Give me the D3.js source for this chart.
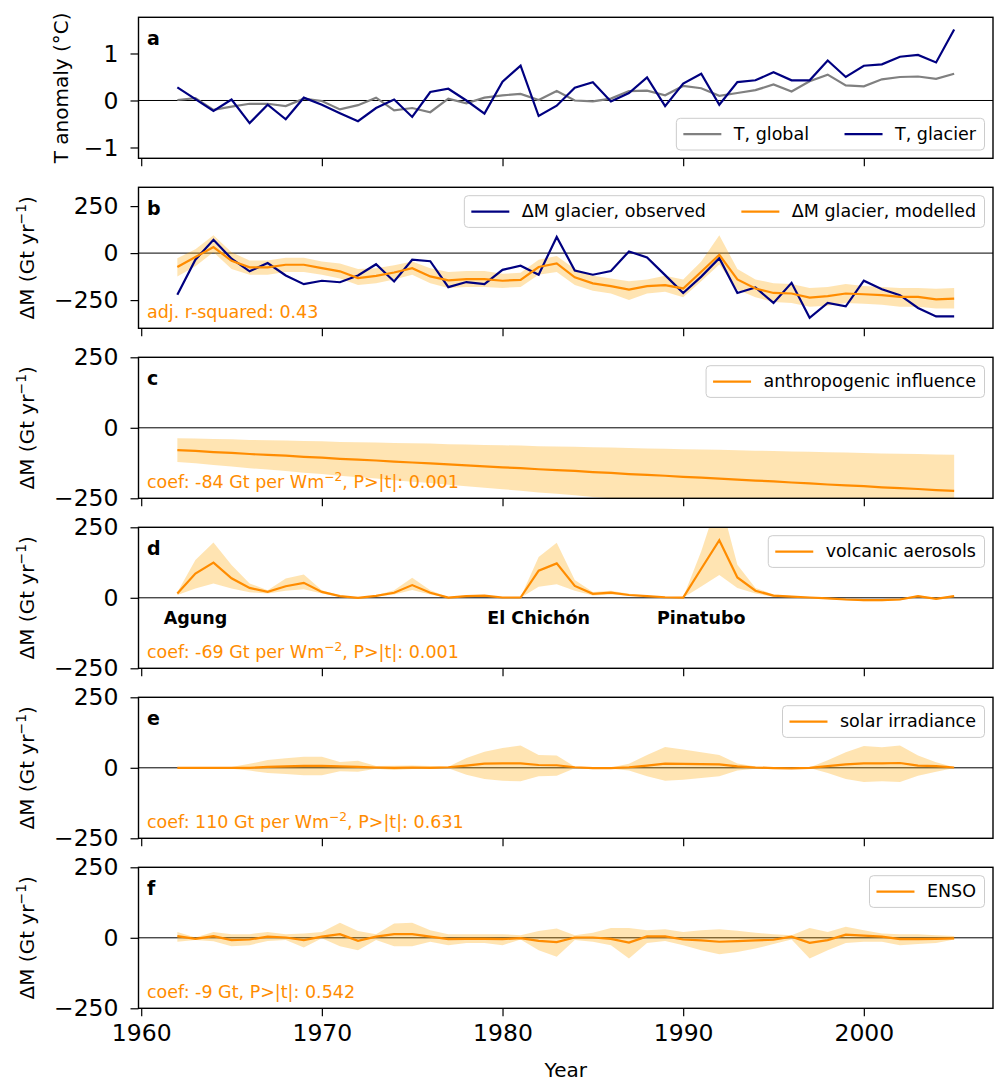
<!DOCTYPE html>
<html><head><meta charset="utf-8">
<script src="https://cdn.jsdelivr.net/npm/d3@7"></script>
<style>body{margin:0;background:#fff} svg{font-family:"DejaVu Sans",sans-serif}</style>
</head><body><svg id="c" width="995" height="1082"></svg>
<script>
// ---------------- DATA ----------------
const years = [1962,1963,1964,1965,1966,1967,1968,1969,1970,1971,1972,1973,1974,1975,1976,1977,1978,1979,1980,1981,1982,
  1983,1984,1985,1986,1987,1988,1989,1990,1991,1992,1993,1994,1995,1996,1997,1998,1999,2000,2001,2002,2003,2004,2005];

const tGlobal = [0.01,0.05,-0.20,-0.13,-0.07,-0.07,-0.12,0.04,-0.01,-0.19,-0.10,0.06,-0.21,-0.16,-0.25,0.04,-0.06,0.06,0.11,0.14,0.01,
  0.20,0.00,-0.02,0.04,0.20,0.21,0.11,0.31,0.26,0.10,0.16,0.22,0.34,0.19,0.41,0.55,0.32,0.30,0.45,0.50,0.51,0.46,0.57];
const tGlacier = [0.28,0.03,-0.22,0.02,-0.48,-0.09,-0.40,0.06,-0.09,-0.27,-0.44,-0.16,0.02,-0.35,0.18,0.25,0.00,-0.28,0.40,0.74,-0.33,
  -0.11,0.27,0.39,-0.02,0.16,0.49,-0.12,0.36,0.57,-0.09,0.39,0.43,0.60,0.43,0.43,0.85,0.50,0.74,0.77,0.93,0.97,0.81,1.51];

const dmObserved = [-222,-35,71,-30,-97,-53,-119,-165,-147,-155,-119,-59,-151,-35,-43,-181,-154,-165,-89,-67,-115,
  86,-93,-115,-95,9,-23,-117,-212,-125,-27,-212,-183,-265,-158,-344,-265,-283,-147,-192,-224,-292,-337,-337];
const dmModelled = [-74,-21,32,-41,-76,-76,-62,-62,-80,-97,-133,-121,-103,-80,-124,-145,-138,-138,-147,-142,-74,
  -55,-129,-161,-176,-194,-176,-170,-188,-99,-9,-140,-188,-212,-215,-237,-229,-215,-219,-224,-233,-233,-246,-242];
const dmModelledHigh = [-27,20,95,5,-40,-40,-25,-25,-45,-55,-85,-80,-65,-45,-80,-100,-95,-95,-110,-105,-35,
  -15,-85,-120,-135,-150,-140,-120,-140,-45,95,-85,-140,-160,-165,-185,-180,-165,-175,-180,-185,-185,-190,-185];
const dmModelledLow = [-125,-70,5,-85,-115,-115,-100,-100,-115,-135,-170,-160,-140,-115,-160,-185,-180,-180,-185,-180,-115,
  -100,-170,-200,-215,-250,-215,-205,-235,-150,-60,-195,-235,-260,-265,-285,-280,-265,-270,-275,-285,-285,-295,-295];

const anthro = [-79,-82,-86,-89,-93,-96,-99,-103,-106,-110,-113,-116,-120,-123,-126,-130,-133,-137,-140,-143,-147,
  -150,-153,-157,-160,-164,-167,-170,-174,-177,-180,-184,-187,-190,-194,-197,-201,-204,-207,-211,-214,-217,-221,-224];
const anthroHigh = [-37,-38,-40,-41,-43,-44,-45,-47,-48,-50,-51,-52,-54,-55,-56,-58,-59,-61,-62,-63,-65,
  -66,-67,-69,-70,-72,-73,-74,-76,-77,-78,-80,-81,-82,-84,-85,-87,-88,-89,-91,-92,-93,-95,-96];
const anthroLow = [-121,-126,-132,-137,-143,-148,-153,-159,-164,-170,-175,-180,-186,-191,-196,-202,-207,-213,-218,-223,-229,
  -234,-239,-245,-250,-256,-261,-266,-272,-277,-282,-288,-293,-298,-304,-309,-315,-320,-325,-331,-336,-341,-347,-352];

const volcanic = [15,86,125,69,35,21,41,53,21,6,0,7,18,45,18,1,6,8,1,1,96,
  122,42,14,18,10,6,2,1,103,204,72,25,8,4,1,-2,-6,-8,-8,-6,6,-4,6];
const volcanicHigh = [20,134,196,116,51,27,68,83,27,8,1,9,27,71,27,2,9,10,2,2,145,
  195,63,21,25,14,8,3,2,165,360,117,35,12,6,2,0,-3,-4,-4,-3,9,-2,9];
const volcanicLow = [10,33,51,33,20,15,25,30,15,4,0,5,12,28,12,0,4,6,0,0,39,
  48,25,8,12,7,4,1,0,40,81,35,15,4,2,0,-4,-9,-12,-12,-9,3,-6,3];

const solar = [0,0,0,0,0,3,5,7,7,5,3,1,0,1,0,2,8,15,16,16,10,
  9,2,-1,-1,2,8,15,14,13,12,5,1,-1,-2,0,6,12,16,16,17,8,6,1];
const solarHigh = [1,1,1,3,14,28,34,39,39,21,25,6,7,8,6,4,35,57,70,79,45,
  44,4,1,1,14,45,74,65,55,45,15,5,2,1,1,27,55,77,73,79,44,20,2];
const solarLow = [-1,-1,-1,-3,-10,-18,-22,-26,-26,-12,-14,-3,-8,-4,-3,-2,-25,-40,-46,-48,-30,
  -28,-2,-4,-3,-10,-30,-46,-42,-36,-30,-10,-3,-3,-3,-1,-18,-40,-50,-48,-50,-28,-14,-1];

const enso = [6,-4,6,-8,-6,4,1,-8,4,13,-11,4,13,13,4,-5,-4,-4,-5,-1,-11,
  -15,1,1,-4,-17,5,5,-6,-9,-14,-12,-9,-7,4,-18,-8,11,8,4,-5,-5,-4,-2];
const ensoHigh = [21,1,21,13,13,21,13,15,21,53,24,13,51,53,27,13,13,13,13,9,24,
  33,9,18,35,35,27,30,21,27,30,25,18,13,9,35,21,39,27,15,13,13,9,6];
const ensoLow = [-14,-8,-12,-30,-26,-11,-8,-34,-2,-30,-44,-8,-30,-30,-14,-26,-18,-18,-26,-6,-44,
  -67,-8,-14,-26,-73,-18,-11,-26,-44,-58,-50,-38,-22,-6,-73,-44,-18,-14,-14,-26,-22,-18,-6];

const xTicks = [1960,1970,1980,1990,2000];
const tTicks = [-1,0,1];
const dmTicks = [-250,0,250];
const volcanoes = [{name:"Agung",year:1963},{name:"El Chichón",year:1982},{name:"Pinatubo",year:1991}];

// ---------------- LAYOUT ----------------
const NAVY = "#000080", GREY = "#808080", ORANGE = "#ff8c00", BAND = "#ffa500";
const X0 = 138.5, X1 = 993, H = 141;
const tops = [17.3, 187.3, 357.3, 527.3, 697.3, 867.3];
const svg = d3.select("#c");
const defs = svg.append("defs");
const x = d3.scaleLinear().domain([1959.85, 2007.15]).range([X0, X1]);

const dmLabel = [["ΔM (Gt yr",false],["−1",true],[")",false]];
const panels = [
  {letter:"a", dom:[-1.23,1.77], ticks:tTicks, ylabel:[["T anomaly (°C)",false]], ylx:68,
   series:[{v:tGlobal,c:GREY,name:"T, global"},{v:tGlacier,c:NAVY,name:"T, glacier"}], legendBottom:true},
  {letter:"b", dom:[-400,350], ticks:dmTicks, ylabel:dmLabel, ylx:34, band:[dmModelledLow,dmModelledHigh],
   series:[{v:dmObserved,c:NAVY,name:"ΔM glacier, observed"},{v:dmModelled,c:ORANGE,name:"ΔM glacier, modelled"}],
   note:[["adj. r-squared: 0.43",false]]},
  {letter:"c", dom:[-250,250], ticks:dmTicks, ylabel:dmLabel, ylx:34, band:[anthroLow,anthroHigh],
   series:[{v:anthro,c:ORANGE,name:"anthropogenic influence"}],
   note:[["coef: -84 Gt per Wm",false],["−2",true],[", P>|t|: 0.001",false]]},
  {letter:"d", dom:[-250,250], ticks:dmTicks, ylabel:dmLabel, ylx:34, band:[volcanicLow,volcanicHigh],
   series:[{v:volcanic,c:ORANGE,name:"volcanic aerosols"}], volc:true,
   note:[["coef: -69 Gt per Wm",false],["−2",true],[", P>|t|: 0.001",false]]},
  {letter:"e", dom:[-250,250], ticks:dmTicks, ylabel:dmLabel, ylx:34, band:[solarLow,solarHigh],
   series:[{v:solar,c:ORANGE,name:"solar irradiance"}],
   note:[["coef: 110 Gt per Wm",false],["−2",true],[", P>|t|: 0.631",false]]},
  {letter:"f", dom:[-250,250], ticks:dmTicks, ylabel:dmLabel, ylx:34, band:[ensoLow,ensoHigh],
   series:[{v:enso,c:ORANGE,name:"ENSO"}],
   note:[["coef: -9 Gt, P>|t|: 0.542",false]]}
];

function richText(t, parts, size) {
  parts.forEach(([s, sup], i) => {
    const ts = t.append("tspan").text(s);
    if (sup) ts.attr("font-size", size * 0.7).attr("dy", -size * 0.42);
    else if (i > 0 && parts[i-1][1]) ts.attr("dy", size * 0.42);
  });
}
const fmt = d => d < 0 ? "−" + Math.abs(d) : String(d);

panels.forEach((p, i) => {
  const top = tops[i], bot = top + H;
  const y = d3.scaleLinear().domain(p.dom).range([bot, top]);
  const g = svg.append("g");
  const cid = "clip" + i;
  defs.append("clipPath").attr("id", cid).append("rect")
    .attr("x", X0).attr("y", top).attr("width", X1 - X0).attr("height", H);
  const pg = g.append("g").attr("clip-path", `url(#${cid})`);

  pg.append("line").attr("x1", X0).attr("x2", X1).attr("y1", y(0)).attr("y2", y(0))
    .attr("stroke", "#000").attr("stroke-width", 1);

  if (p.band) {
    const [lo, hi] = p.band;
    pg.append("path").datum(years.map((yr, k) => ({yr, lo: lo[k], hi: hi[k]})))
      .attr("fill", BAND).attr("fill-opacity", 0.3)
      .attr("d", d3.area().x(d => x(d.yr)).y0(d => y(d.lo)).y1(d => y(d.hi)));
  }
  p.series.forEach(s => {
    pg.append("path").datum(years.map((yr, k) => [yr, s.v[k]]))
      .attr("fill", "none").attr("stroke", s.c).attr("stroke-width", 2.2).attr("stroke-linejoin", "miter")
      .attr("d", d3.line().x(d => x(d[0])).y(d => y(d[1])));
  });

  if (p.volc) {
    volcanoes.forEach(v => {
      g.append("text").attr("x", x(v.year)).attr("y", 624).attr("text-anchor", "middle")
        .attr("font-size", 17.5).attr("font-weight", "bold").text(v.name);
    });
  }
  if (p.note) {
    const t = g.append("text").attr("x", 147).attr("y", bot - 10).attr("font-size", 17.5).attr("fill", ORANGE);
    richText(t, p.note, 17.5);
  }
  g.append("text").attr("x", 147).attr("y", top + 28).attr("font-size", 19).attr("font-weight", "bold").text(p.letter);

  g.append("rect").attr("x", X0).attr("y", top).attr("width", X1 - X0).attr("height", H)
    .attr("fill", "none").attr("stroke", "#000").attr("stroke-width", 1.4);

  const ya = g.append("g").attr("transform", `translate(${X0},0)`)
    .call(d3.axisLeft(y).tickValues(p.ticks).tickSize(8).tickPadding(12).tickFormat(fmt));
  ya.select(".domain").remove();
  ya.selectAll("line").attr("stroke-width", 1.2);
  ya.selectAll("text").attr("font-size", 23.5).attr("font-family", "DejaVu Sans").attr("fill", "#000");

  const xa = g.append("g").attr("transform", `translate(0,${bot})`)
    .call(d3.axisBottom(x).tickValues(xTicks).tickSize(8).tickPadding(8).tickFormat(i === 5 ? d3.format("d") : () => ""));
  xa.select(".domain").remove();
  xa.selectAll("line").attr("stroke-width", 1.2);
  xa.selectAll("text").attr("font-size", 23.5).attr("font-family", "DejaVu Sans").attr("fill", "#000");

  const yl = g.append("text").attr("transform", `translate(${p.ylx},${top + H / 2}) rotate(-90)`)
    .attr("text-anchor", "middle").attr("font-size", 20);
  richText(yl, p.ylabel, 20);

  const lg = g.append("g");
  const box = lg.append("rect");
  const parts = p.series.map(s => {
    const t = lg.append("text").attr("font-size", 17.5).text(s.name);
    return {s, t, w: t.node().getComputedTextLength()};
  });
  const padL = 7, hl = 38, gap = 12.5, colsp = 35.5, padR = 8.5, bh = 31.7;
  let w = padL;
  parts.forEach((q, k) => { if (k > 0) w += colsp; q.lx = w; w += hl + gap; q.tx = w; w += q.w; });
  w += padR;
  const bx = X1 - 8.5 - w;
  const by = p.legendBottom ? bot - 8.3 - bh : top + 8.4;
  box.attr("x", bx).attr("y", by).attr("width", w).attr("height", bh).attr("rx", 4)
    .attr("fill", "#fff").attr("fill-opacity", 0.8).attr("stroke", "#cccccc").attr("stroke-width", 1);
  parts.forEach(q => {
    lg.append("line").attr("x1", bx + q.lx).attr("x2", bx + q.lx + hl)
      .attr("y1", by + bh / 2).attr("y2", by + bh / 2).attr("stroke", q.s.c).attr("stroke-width", 2.2);
    q.t.attr("x", bx + q.tx).attr("y", by + bh / 2 + 5.5);
  });
});

svg.append("text").attr("x", (X0 + X1) / 2).attr("y", 1077).attr("text-anchor", "middle")
  .attr("font-size", 20).text("Year");
</script>
</body></html>
